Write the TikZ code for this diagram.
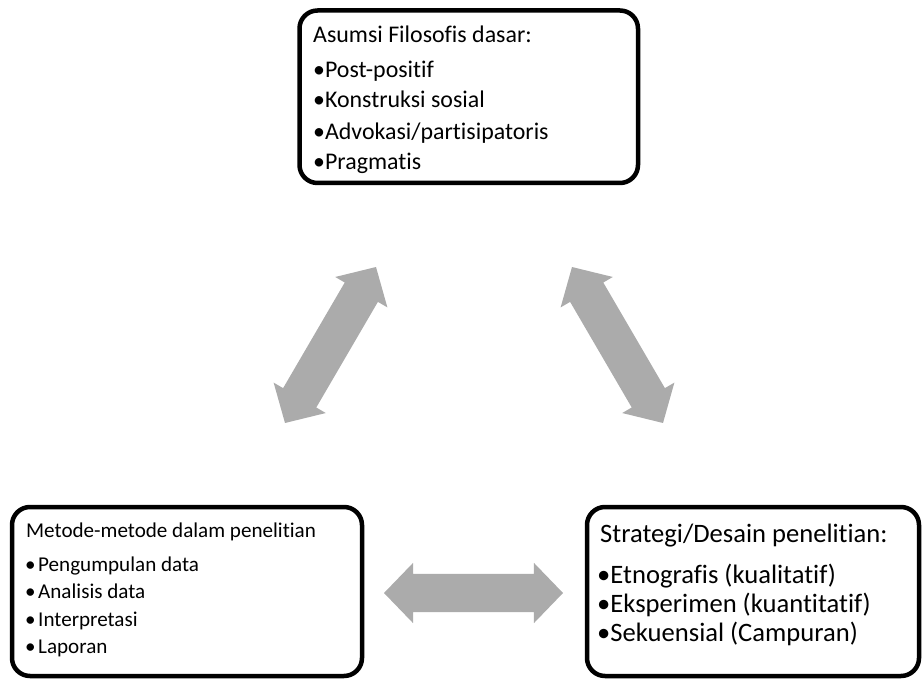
\documentclass[tikz,border=0pt]{standalone}
\usepackage{fontspec}
\setmainfont{Carlito}[Ligatures={NoCommon}]
\usetikzlibrary{shapes.arrows}
\definecolor{arrowgray}{HTML}{ABABAB}
\tikzset{
  box/.style={draw=black, line width=4.5pt, rounded corners=18pt, inner sep=0pt, outer sep=0pt},
  dbl/.style={double arrow, fill=arrowgray, draw=none, inner xsep=0pt, inner ysep=19pt, outer sep=0pt,
    double arrow head extend=11pt, double arrow tip angle=92},
  ttop/.style={anchor=base west, inner sep=0pt, font=\fontsize{23.9}{28}\selectfont},
  tleft/.style={anchor=base west, inner sep=0pt, font=\fontsize{21.1}{25}\selectfont},
  tright/.style={anchor=base west, inner sep=0pt, font=\fontsize{26.6}{31}\selectfont},
}
\begin{document}
\begin{tikzpicture}[x=1pt, y=1pt]
\useasboundingbox (0,0) rectangle (923,-679);
% boxes
\node[box, minimum width=338.5pt, minimum height=172.5pt] (asumsi) at (468.75,-96.75) {};
\node[box, minimum width=350pt, minimum height=169pt] (metode) at (187,-591.5) {};
\node[box, minimum width=332pt, minimum height=169pt] (strategi) at (753,-591.5) {};
% top texts
\node[ttop] (a0) at (313,-43) {Asumsi Filosofis dasar:};
\node[ttop] (a1) at (313,-78) {•Post-positif};
\node[ttop] (a2) at (313,-108) {•Konstruksi sosial};
\node[ttop] (a3) at (313,-140) {•Advokasi/partisipatoris};
\node[ttop] (a4) at (313,-170) {•Pragmatis};
% left texts
\node[tleft] (m0) at (26,-537) {Metode-metode dalam penelitian};
\node[tleft] (m1) at (25,-571) {•\kern2.5pt Pengumpulan data};
\node[tleft] (m2) at (25,-598) {•\kern2.5pt Analisis data};
\node[tleft] (m3) at (25,-626) {•\kern2.5pt Interpretasi};
\node[tleft] (m4) at (25,-653) {•\kern2.5pt Laporan};
% right texts
\node[tright] (s0) at (600,-542) {Strategi/Desain penelitian:};
\node[tright] (s1) at (597,-583) {•Etnografis (kualitatif)};
\node[tright] (s2) at (597,-612) {•Eksperimen (kuantitatif)};
\node[tright] (s3) at (597,-641) {•Sekuensial (Campuran)};
% arrows
\node[dbl, minimum height=180.6pt, rotate=59.74] (arrL) at (330.5,-345) {};
\node[dbl, minimum height=180.6pt, rotate=-59.74] (arrR) at (617.5,-345) {};
\node[dbl, minimum height=179pt] (arrB) at (473.5,-593) {};
\end{tikzpicture}
\end{document}
